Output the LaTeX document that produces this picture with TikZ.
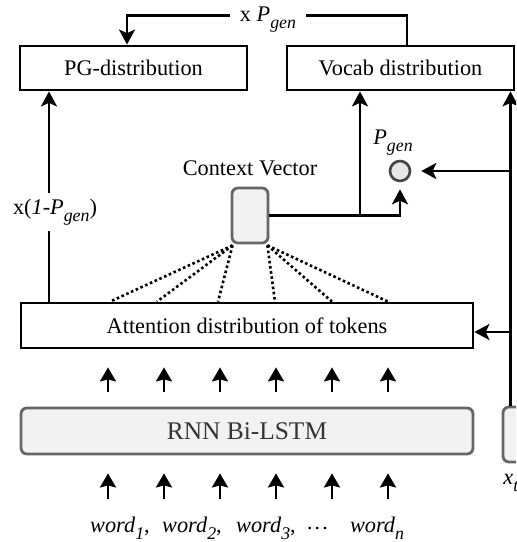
\documentclass[tikz,border=0pt]{standalone}
\usepackage{fontspec}
\setmainfont{Liberation Serif}
\usepackage{xcolor}
\usetikzlibrary{positioning, calc, arrows.meta}

\definecolor{cellfill}{HTML}{F2F2F2}
\definecolor{celledge}{HTML}{666666}
\definecolor{gatefill}{HTML}{E6E6E6}
\definecolor{gateedge}{HTML}{444444}
\definecolor{celltext}{HTML}{333333}

\newcommand{\lowsub}[1]{\raisebox{-0.32em}{\fontsize{8.9}{10}\selectfont\itshape #1}}
\newcommand{\Pgen}{\textit{P}\lowsub{gen}}
\newcommand{\wordsub}[1]{\textit{word}\lowsub{#1}}

\begin{document}
\begin{tikzpicture}[x=0.5pt, y=-0.5pt,
        DistNode/.style={rectangle, draw=black, line width=1.4pt, fill=white, inner sep=0pt,
            font=\fontsize{11.15}{13}\selectfont},
        CellNode/.style={rectangle, rounded corners=3pt, draw=celledge, line width=1.4pt, fill=cellfill, inner sep=0pt},
        GateNode/.style={circle, draw=gateedge, line width=1.3pt, fill=gatefill, minimum size=10pt, inner sep=0pt},
        TextNode/.style={inner sep=2pt, font=\fontsize{11.15}{13}\selectfont},
        FlowArrow/.style={line width=1.35pt, -{Stealth[length=7.5pt, width=8pt, inset=1.8pt]}},
        StepArrow/.style={line width=1.3pt, -{Stealth[length=7pt, width=8pt, inset=1pt]}},
        AttnLink/.style={line width=1.3pt, dash pattern=on 1.3pt off 1.3pt}]

    \useasboundingbox (0,0) rectangle (516,542);
    \clip (0,0) rectangle (516,542);

    % distributions
    \node[DistNode, minimum width=113.5pt, minimum height=22pt] (PG) at (133.5,68) {PG-distribution};
    \node[DistNode, minimum width=113.5pt, minimum height=22pt] (Vocab) at (400.5,68) {Vocab distribution};
    \node[DistNode, minimum width=226pt, minimum height=22.5pt] (Attn) at (247,325.5) {Attention distribution of tokens};

    % encoder and decoder cells
    \node[CellNode, minimum width=226pt, minimum height=23pt, text=celltext,
        font=\fontsize{12.7}{15}\selectfont] (RNN) at (247,431) {RNN Bi-LSTM};
    \node[CellNode, minimum width=18pt, minimum height=27.5pt] (Ctx) at (250,215.5) {};
    \node[TextNode] (CtxLbl) [above=3pt of Ctx] {Context Vector};
    \node[CellNode, minimum width=18pt, minimum height=27.5pt] (Xt) at (521,434.5) {};
    \node[TextNode, anchor=west] (XtLbl) at (499,483) {\textit{x}\lowsub{t}};

    % generation gate
    \node[GateNode] (Gate) at (400,171) {};
    \node[TextNode] (GateLbl) [above=0pt of Gate, xshift=-3.5pt] {\Pgen};

    % x P_gen into PG-distribution
    \coordinate (VTop) at ($(Vocab.north)+(6.5,-29)$);
    \coordinate (PTop) at ($(PG.north)+(-6.5,-29)$);
    \draw[FlowArrow] ($(Vocab.north)+(6.5,0)$) -- (VTop) -- (PTop) -- ($(PG.north)+(-6.5,0)$);
    \node[TextNode, fill=white, inner xsep=5pt, anchor=base] (GenTop) at (268,21.5) {x \Pgen};

    % x(1-P_gen) into PG-distribution
    \coordinate (CopyFoot) at (49,0 |- Attn.north);
    \draw[FlowArrow] (CopyFoot) -- (CopyFoot |- PG.south);
    \node[TextNode, fill=white, inner ysep=3pt] (CopyLbl) at (55,212) {x(\textit{1-}\Pgen)};

    % context vector to gate and vocab
    \coordinate (Split) at (360,0 |- Ctx.east);
    \draw[FlowArrow, shorten >=3.5pt] (Ctx.east) -- (Ctx.east -| Gate.south) -- (Gate.south);
    \draw[FlowArrow] (Split) -- (Split |- Vocab.south);

    % decoder input bus
    \coordinate (BusFoot) at (510.5,0 |- Xt.north);
    \coordinate (BusGate) at (BusFoot |- Gate.east);
    \coordinate (BusAttn) at (510.5,332);
    \draw[FlowArrow] (BusFoot) -- (BusFoot |- Vocab.south);
    \draw[FlowArrow, shorten >=5pt] (BusGate) -- (Gate.east);
    \draw[FlowArrow] (BusAttn) -- (BusAttn -| Attn.east);

    % attention weights
    \foreach \tx in {110, 157, 218}
        \draw[AttnLink] ($(Ctx.south west)+(2,1)$) -- (\tx,0 |- Attn.north);
    \foreach \tx in {275, 332, 388}
        \draw[AttnLink] ($(Ctx.south east)+(-2,1)$) -- (\tx,0 |- Attn.north);

    % token steps
    \foreach \ax in {108, 164, 220, 276, 332, 388} {
        \draw[StepArrow] ($(\ax,0 |- RNN.north)+(0,-15)$) -- ($(\ax,0 |- Attn.south)+(0,18)$);
        \draw[StepArrow] ($(\ax,0 |- RNN.south)+(0,44)$) -- ($(\ax,0 |- RNN.south)+(0,18)$);
    }

    % input words
    \node[TextNode] (W1) at (120,528) {\wordsub{1},};
    \node[TextNode] (W2) at (192,528) {\wordsub{2},};
    \node[TextNode] (W3) at (266,528) {\wordsub{3},};
    \node[TextNode] (Wdots) at (318,528) {\textit{.\kern1pt.\kern1pt.}};
    \node[TextNode] (Wn) at (377,528) {\wordsub{n}};
\end{tikzpicture}
\end{document}
